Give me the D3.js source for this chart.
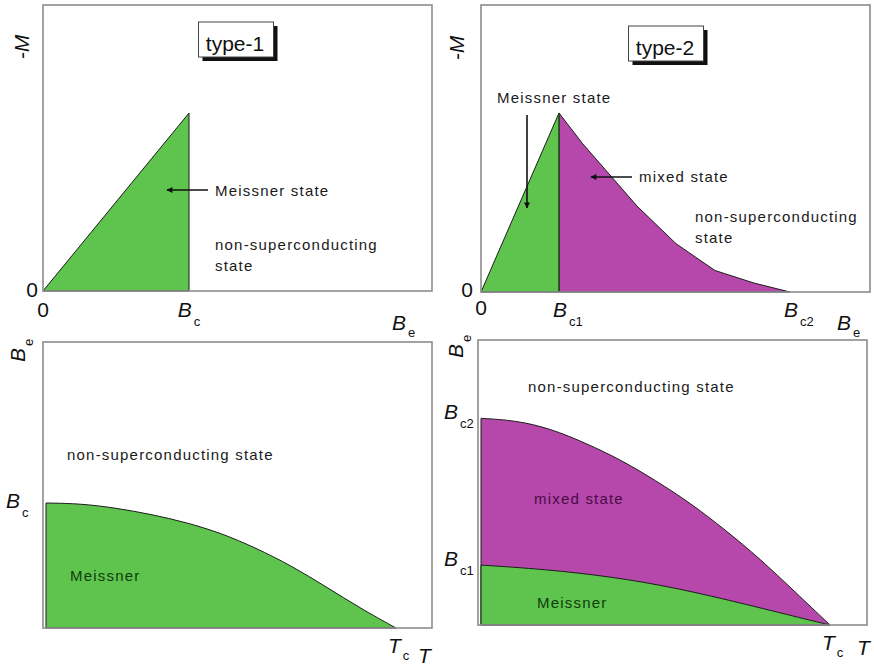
<!DOCTYPE html>
<html>
<head>
<meta charset="utf-8">
<script src="https://cdn.jsdelivr.net/npm/d3@7"></script>
<style>
  body { margin: 0; background: #fff; }
  svg { display: block; }
  text { font-family: "Liberation Sans", Arial, sans-serif; }
</style>
</head>
<body>
<svg id="chart" width="874" height="667"></svg>
<script>
// ---- Magnetisation curves (-M against applied field Be) ----
// Type-1: field in units of Bc, -M in units of -M(Bc)
const typeIField = [0, 1];
const typeIMag = [0, 1];
// Type-2: field in units of Bc1
const typeIIMeissnerField = [0, 1];
const typeIIMeissnerMag = [0, 1];
const typeIIMixedField = [1, 1.3, 1.6, 2, 2.5, 3, 3.5, 3.96];
const typeIIMixedMag = [1, 0.83, 0.68, 0.48, 0.27, 0.12, 0.05, 0];

// ---- Phase diagrams (critical field against temperature, T in units of Tc) ----
const typeITemp = [0, 0.1, 0.2, 0.3, 0.4, 0.5, 0.6, 0.7, 0.8, 0.9, 1];
const typeIBc = [1, 0.995, 0.96, 0.91, 0.845, 0.76, 0.64, 0.5, 0.33, 0.155, 0];
// Type-2 fields in units of Bc2(0)
const typeIITempBc2 = [0, 0.1, 0.2, 0.3, 0.4, 0.5, 0.6, 0.7, 0.8, 0.9, 1];
const typeIIBc2 = [1, 0.99, 0.95, 0.88, 0.8, 0.7, 0.59, 0.46, 0.32, 0.16, 0];
const typeIITempBc1 = [0, 0.18, 0.37, 0.56, 0.76, 0.95, 1];
const typeIIBc1 = [0.29, 0.27, 0.235, 0.18, 0.1, 0.02, 0];

// ---- Tick labels: value, main symbol, subscript ----
const typeIFieldTicks = [[0, "0", ""], [1, "B", "c"]];
const typeIIFieldTicks = [[0, "0", ""], [1, "B", "c1"], [3.96, "B", "c2"]];
const typeIPhaseFieldTicks = [[1, "B", "c"]];
const typeIIPhaseFieldTicks = [[1, "B", "c2"], [0.29, "B", "c1"]];
const tempTicks = [[1, "T", "c"]];

const GREEN = "#5ec44e";
const MAGENTA = "#b548aa";
const EDGE = "#1c1c1c";
const FRAME = "#8c8c8c";

const svg = d3.select("#chart");
const zip = (xs, ys) => xs.map((x, i) => [x, ys[i]]);

// arrowhead
svg.append("defs").append("marker")
  .attr("id", "head").attr("viewBox", "0 0 10 10")
  .attr("refX", 9).attr("refY", 5)
  .attr("markerWidth", 7).attr("markerHeight", 6)
  .attr("markerUnits", "userSpaceOnUse")
  .attr("orient", "auto")
  .append("path").attr("d", "M0,0 L10,5 L0,10 Z").attr("fill", "#111");

function frame(x, y) {
  const [x0, x1] = x.range(), [y0, y1] = y.range();
  svg.append("rect")
    .attr("x", x0).attr("y", y1).attr("width", x1 - x0).attr("height", y0 - y1)
    .attr("fill", "none").attr("stroke", FRAME).attr("stroke-width", 1.6);
}

function region(x, y, pts, fill, curve, stroke) {
  const area = d3.area().x(d => x(d[0])).y0(y(0)).y1(d => y(d[1])).curve(curve);
  svg.append("path").datum(pts).attr("d", area)
    .attr("fill", fill).attr("stroke", stroke || EDGE).attr("stroke-width", 1)
    .attr("stroke-linejoin", "round");
}

function symbol(px, py, main, sub, opts) {
  opts = opts || {};
  const t = svg.append("text")
    .attr("x", px).attr("y", py)
    .attr("text-anchor", opts.anchor || "start")
    .attr("font-size", 21).attr("fill", "#111");
  if (opts.rotate) t.attr("transform", `rotate(-90,${px},${py})`);
  t.append("tspan").text(main).attr("font-style", main === "0" ? "normal" : "italic");
  if (sub) t.append("tspan").text(sub).attr("font-size", 13).attr("dx", 2).attr("dy", opts.subDy || 8);
  return t;
}

function label(px, py, str, color) {
  svg.append("text").attr("x", px).attr("y", py)
    .attr("font-size", 15).attr("letter-spacing", 1.2)
    .attr("fill", color || "#1a1a1a").text(str);
}

function arrow(x1, y1, x2, y2) {
  svg.append("line").attr("x1", x1).attr("y1", y1).attr("x2", x2).attr("y2", y2)
    .attr("stroke", "#111").attr("stroke-width", 1.6).attr("marker-end", "url(#head)");
}

function typeBox(cx, top, str) {
  const w = 75, h = 35;
  svg.append("rect").attr("x", cx - w / 2 + 4).attr("y", top + 4).attr("width", w).attr("height", h).attr("fill", "#111");
  svg.append("rect").attr("x", cx - w / 2).attr("y", top).attr("width", w).attr("height", h)
    .attr("fill", "#fff").attr("stroke", "#444").attr("stroke-width", 1);
  svg.append("text").attr("x", cx - 1).attr("y", top + 29).attr("text-anchor", "middle")
    .attr("font-size", 21).attr("fill", "#111").text(str);
}

// ================= Type-1 magnetisation =================
{
  const x = d3.scaleLinear([0, 2.664], [43, 432]);
  const y = d3.scaleLinear([0, 1.607], [291, 5]);
  region(x, y, zip(typeIField, typeIMag), GREEN, d3.curveLinear);
  frame(x, y);
  typeBox(236, 22, "type-1");
  typeIFieldTicks.forEach(([v, m, s]) => symbol(x(v), 317, m, s, { anchor: "middle", subDy: 9 }));
  symbol(x(0) - 5, y(0) + 6, "0", "", { anchor: "end" });
  symbol(392, 330, "B", "e", { subDy: 7 });
  symbol(29, 47, "-M", "", { anchor: "middle", rotate: true });
  arrow(208, 190, 167, 190);
  label(215, 196, "Meissner state");
  label(215, 250, "non-superconducting");
  label(215, 271, "state");
}

// ================= Type-2 magnetisation =================
{
  const x = d3.scaleLinear([0, 4.987], [481, 870]);
  const y = d3.scaleLinear([0, 1.603], [292, 5]);
  region(x, y, zip(typeIIMixedField, typeIIMixedMag), MAGENTA, d3.curveLinear);
  region(x, y, zip(typeIIMeissnerField, typeIIMeissnerMag), GREEN, d3.curveLinear);
  svg.append("line").attr("x1", x(1)).attr("x2", x(1)).attr("y1", y(1)).attr("y2", y(0))
    .attr("stroke", "#1f5a1a").attr("stroke-width", 1.2);
  frame(x, y);
  typeBox(666, 26, "type-2");
  typeIIFieldTicks.forEach(([v, m, s]) => {
    if (m === "0") symbol(x(v), 315, m, s, { anchor: "middle" });
    else symbol(x(v) - 6, 317, m, s, { subDy: 9 });
  });
  symbol(x(0) - 8, y(0) + 5, "0", "", { anchor: "end" });
  symbol(837, 330, "B", "e", { subDy: 7 });
  symbol(464, 48, "-M", "", { anchor: "middle", rotate: true });
  label(497, 103, "Meissner state");
  arrow(527, 115, 527, 208);
  label(639, 182, "mixed state");
  arrow(632, 177, 591, 177);
  label(695, 222, "non-superconducting");
  label(695, 243, "state");
}

// ================= Type-1 phase diagram =================
{
  const x = d3.scaleLinear([-0.0086, 1.103], [43, 432]);
  const y = d3.scaleLinear([0, 2.288], [628, 342]);
  region(x, y, zip(typeITemp, typeIBc), GREEN, d3.curveBasis);
  frame(x, y);
  typeIPhaseFieldTicks.forEach(([v, m, s]) => symbol(6, y(v) + 5, m, s, { subDy: 9 }));
  tempTicks.forEach(([v, m, s]) => symbol(x(v) - 8, 653, m, s, { subDy: 7 }));
  symbol(418, 663, "T", "");
  symbol(25, 362, "B", "e", { rotate: true, subDy: 8 });
  label(67, 460, "non-superconducting state");
  label(70, 581, "Meissner", "#0f3d0c");
}

// ================= Type-2 phase diagram =================
{
  const x = d3.scaleLinear([-0.0086, 1.106], [478, 867]);
  const y = d3.scaleLinear([0, 1.379], [625, 340]);
  region(x, y, zip(typeIITempBc2, typeIIBc2), MAGENTA, d3.curveBasis);
  region(x, y, zip(typeIITempBc1, typeIIBc1), GREEN, d3.curveBasis);
  frame(x, y);
  typeIIPhaseFieldTicks.forEach(([v, m, s]) => symbol(444, y(v) + 1, m, s, { subDy: 9 }));
  tempTicks.forEach(([v, m, s]) => symbol(x(v) - 8, 650, m, s, { subDy: 7 }));
  symbol(857, 655, "T", "");
  symbol(463, 358, "B", "e", { rotate: true, subDy: 8 });
  label(528, 392, "non-superconducting state");
  label(534, 504, "mixed state", "#4a0c47");
  label(537, 608, "Meissner", "#0f3d0c");
}
</script>
</body>
</html>
